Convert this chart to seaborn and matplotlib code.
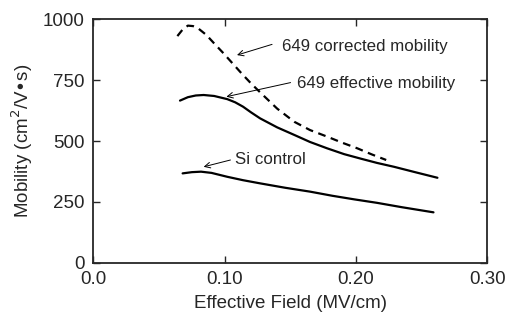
import matplotlib
matplotlib.use("Agg")
import matplotlib.pyplot as plt
import seaborn as sns
import pandas as pd

# values
corr_field = [0.064, 0.068, 0.072, 0.076, 0.080, 0.086, 0.092, 0.099, 0.106, 0.113, 0.120, 0.127, 0.140, 0.153, 0.165, 0.178, 0.190, 0.201, 0.212, 0.223]
corr_mob = [931, 958, 974, 972, 962, 936, 901, 861, 819, 777, 737, 700, 633, 579, 545, 518, 492, 470, 445, 422]

eff_field = [0.066, 0.072, 0.078, 0.084, 0.092, 0.102, 0.108, 0.114, 0.120, 0.127, 0.140, 0.153, 0.165, 0.178, 0.191, 0.204, 0.216, 0.229, 0.245, 0.262]
eff_mob = [666, 680, 687, 689, 685, 672, 659, 641, 618, 593, 556, 525, 496, 470, 446, 427, 410, 394, 372, 349]

si_field = [0.068, 0.075, 0.082, 0.090, 0.102, 0.114, 0.127, 0.146, 0.165, 0.182, 0.199, 0.216, 0.235, 0.259]
si_mob = [367, 372, 374, 369, 353, 339, 326, 308, 292, 275, 260, 246, 228, 207]

x_ticks = [0.0, 0.10, 0.20, 0.30]
x_tick_labels = ["0.0", "0.10", "0.20", "0.30"]
y_ticks = [0, 250, 500, 750, 1000]

sns.set_style("ticks")
plt.rcParams['font.family'] = ['Liberation Sans', 'DejaVu Sans']

fig = plt.figure(figsize=(5.08, 3.2), dpi=100)
ax = fig.add_axes([0.1837, 0.179, 0.9593 - 0.1837, 0.9397 - 0.179])

corr_df = pd.DataFrame({'field': corr_field, 'mob': corr_mob})
eff_df = pd.DataFrame({'field': eff_field, 'mob': eff_mob})
si_df = pd.DataFrame({'field': si_field, 'mob': si_mob})

sns.lineplot(data=corr_df, x='field', y='mob', ax=ax, color='black', linewidth=1.6, sort=False)
ax.lines[-1].set_dashes((3.5, 2.5))
sns.lineplot(data=eff_df, x='field', y='mob', ax=ax, color='black', linewidth=1.6, sort=False)
sns.lineplot(data=si_df, x='field', y='mob', ax=ax, color='black', linewidth=1.6, sort=False)

arrow = dict(arrowstyle='->', color='black', lw=0.7, shrinkA=0, shrinkB=0)
ax.annotate('', xy=(0.1094, 853), xytext=(0.1361, 897), arrowprops=arrow)
ax.text(0.1438, 887, '649 corrected mobility', fontsize=12.2, va='center', ha='left')
ax.annotate('', xy=(0.1013, 682), xytext=(0.1502, 740), arrowprops=arrow)
ax.text(0.1553, 737, '649 effective mobility', fontsize=12.2, va='center', ha='left')
ax.annotate('', xy=(0.084, 394), xytext=(0.1044, 422), arrowprops=arrow)
ax.text(0.1076, 425, 'Si control', fontsize=12.2, va='center', ha='left')

ax.set_xlim(0, 0.30)
ax.set_ylim(0, 1000)
ax.set_xticks(x_ticks)
ax.set_xticklabels(x_tick_labels)
ax.set_yticks(y_ticks)
ax.tick_params(direction='in', top=True, right=True, length=5, width=1,
               labelsize=13.5, pad=6)
ax.tick_params(axis='y', labelright=False)
for s in ax.spines.values():
    s.set_linewidth(1.3)

ax.set_xlabel('Effective Field (MV/cm)', fontsize=13.5, labelpad=5)
ax.set_ylabel('Mobility (cm$^2$/V\u2022s)', fontsize=13.5, labelpad=6)

fig.savefig('out.png', dpi=100)
